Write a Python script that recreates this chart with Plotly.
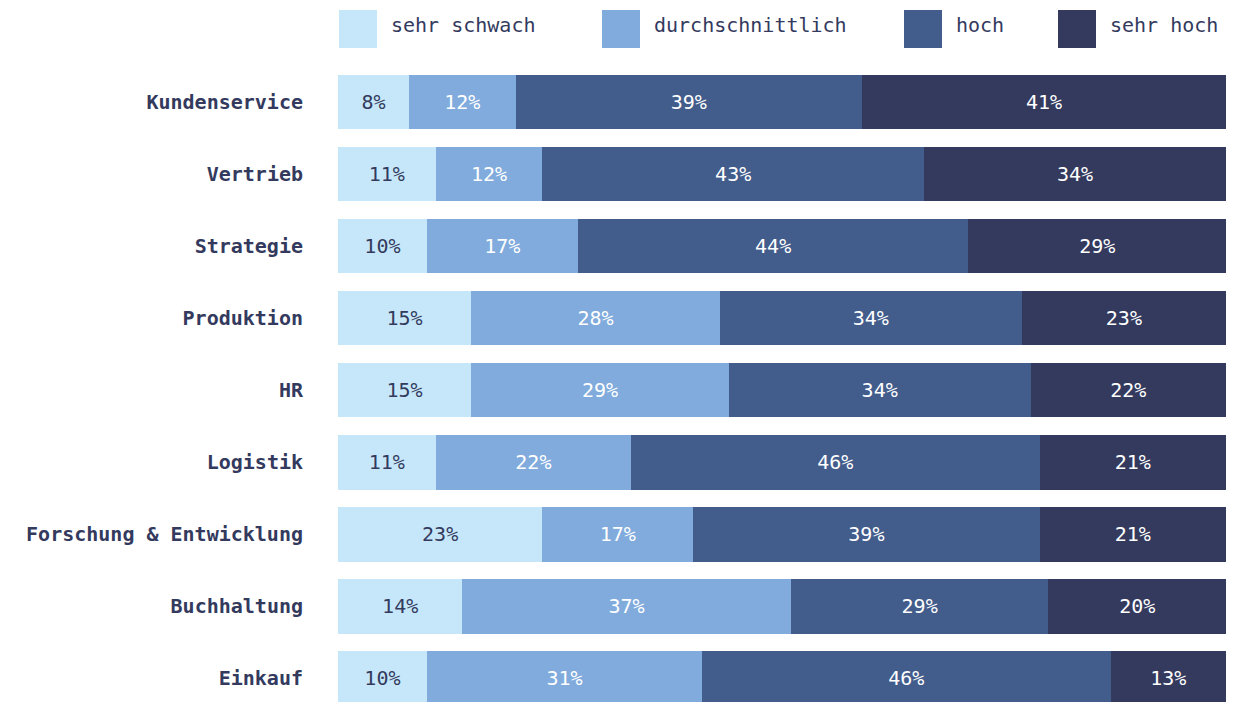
import plotly.graph_objects as go

categories = ["Kundenservice", "Vertrieb", "Strategie", "Produktion", "HR",
              "Logistik", "Forschung & Entwicklung", "Buchhaltung", "Einkauf"]
series_names = ["sehr schwach", "durchschnittlich", "hoch", "sehr hoch"]
sehr_schwach = [8, 11, 10, 15, 15, 11, 23, 14, 10]
durchschnittlich = [12, 12, 17, 28, 29, 22, 17, 37, 31]
hoch = [39, 43, 44, 34, 34, 46, 39, 29, 46]
sehr_hoch = [41, 34, 29, 23, 22, 21, 21, 20, 13]
series_values = [sehr_schwach, durchschnittlich, hoch, sehr_hoch]

colors = ["#c6e7f9", "#80abdc", "#425c8b", "#333a5e"]
text_colors = ["#333a5e", "#ffffff", "#ffffff", "#ffffff"]
DARK = "#333a5e"
FONT = "DejaVu Sans Mono"

W, H = 1240, 702
ML, MR, MT, MB = 338, 14, 66, 0

fig = go.Figure()
for name, vals, c, tc in zip(series_names, series_values, colors, text_colors):
    fig.add_trace(go.Bar(
        y=categories, x=vals, name=name, orientation="h",
        marker=dict(color=c, line=dict(width=0)),
        text=[f"{v}%" for v in vals], textposition="inside",
        insidetextanchor="middle", constraintext="none",
        textfont=dict(family=FONT, size=20, color=tc),
        showlegend=False, hoverinfo="skip",
    ))

# custom legend (large squares)
pw = W - ML - MR
ph = H - MT - MB
leg_px = [339, 602, 904, 1058]
for name, c, px in zip(series_names, colors, leg_px):
    x0 = (px - ML) / pw
    x1 = (px + 38 - ML) / pw
    fig.add_shape(type="rect", xref="paper", yref="paper",
                  x0=x0, x1=x1, y0=(H - MB - 48) / ph, y1=(H - MB - 10) / ph,
                  fillcolor=c, line=dict(width=0))
    fig.add_annotation(xref="paper", yref="paper", x=(px + 50 - ML) / pw,
                       y=(H - MB - 25) / ph, text=name, showarrow=False,
                       xanchor="left", yanchor="middle",
                       font=dict(family=FONT, size=20, color=DARK))

fig.update_layout(
    barmode="stack", width=W, height=H,
    margin=dict(l=ML, r=MR, t=MT, b=MB),
    plot_bgcolor="white", paper_bgcolor="white",
    bargap=0.24,
    xaxis=dict(range=[0, 100], visible=False, fixedrange=True),
    yaxis=dict(range=[8.33, -0.5], showgrid=False, zeroline=False, showline=False,
               ticks="", ticklabelstandoff=34,
               tickfont=dict(family=FONT, size=20, color=DARK, weight="bold")),
)

fig.write_html("out.html")
